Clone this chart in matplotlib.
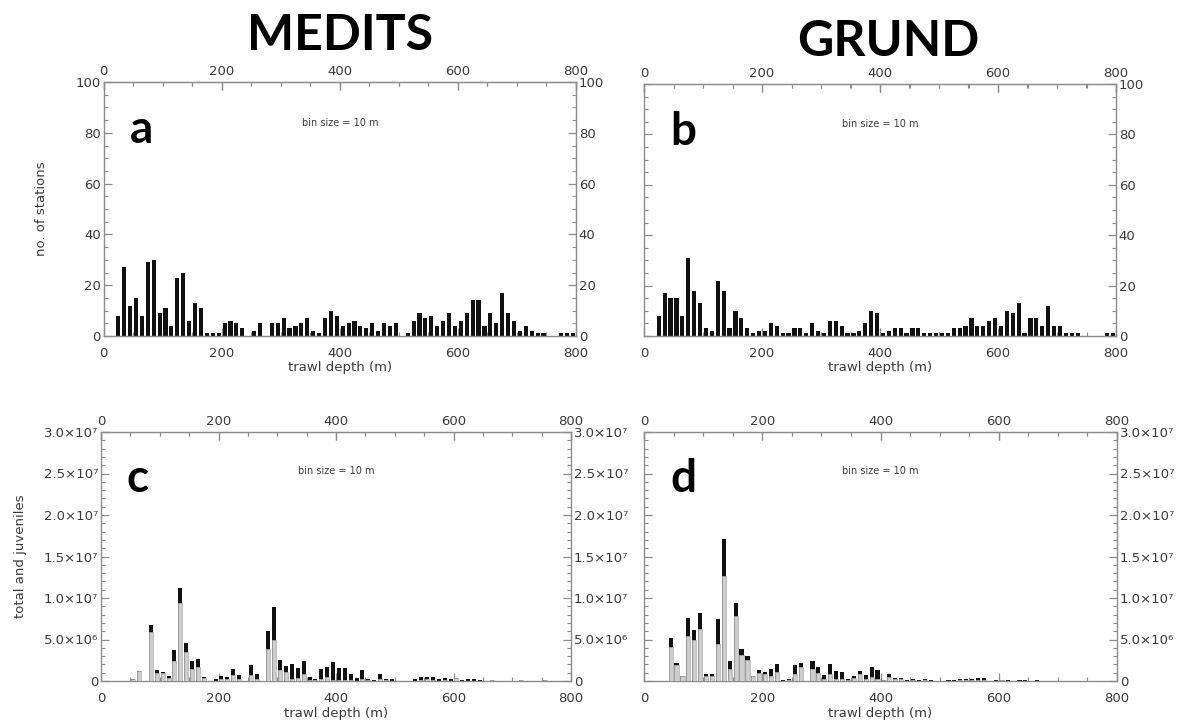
import numpy as np
import matplotlib
matplotlib.use("Agg")
import matplotlib.pyplot as plt
from matplotlib.ticker import MultipleLocator, FixedLocator, FixedFormatter

# ---------------- data (bins of 10 m, bin k covers 10k..10k+10 m) ----------------
bin_size = 10
n_bins = 80

medits_stations = [0, 0, 8, 27, 12, 15, 8, 29, 30, 9,
                   11, 4, 23, 25, 6, 13, 11, 1, 1, 1,
                   5, 6, 5, 3, 0, 2, 5, 0, 5, 5,
                   7, 3, 4, 5, 7, 2, 1, 7, 10, 8,
                   4, 5, 6, 4, 3, 5, 2, 5, 4, 5,
                   0, 1, 6, 9, 7, 8, 4, 6, 9, 4,
                   6, 9, 14, 14, 4, 9, 5, 17, 9, 6,
                   2, 4, 2, 1, 1, 0, 0, 1, 1, 1]

grund_stations = [0, 0, 8, 17, 15, 15, 8, 31, 18, 13,
                  3, 2, 22, 18, 3, 10, 7, 3, 1, 2,
                  2, 5, 4, 1, 1, 3, 3, 1, 5, 2,
                  1, 6, 6, 4, 1, 1, 2, 5, 10, 9,
                  1, 2, 3, 3, 1, 3, 3, 1, 1, 1,
                  1, 1, 3, 3, 4, 7, 4, 4, 6, 7,
                  4, 10, 9, 13, 1, 7, 7, 4, 12, 4,
                  4, 1, 1, 1, 0, 0, 0, 0, 1, 1]

# abundances in millions
medits_total = [0, 0, 0, 0, 0, 0.2, 1.2, 0, 6.7, 1.3,
                1.1, 0.6, 3.7, 11.2, 4.6, 2.4, 2.6, 0.5, 0, 0.2,
                0.65, 0.5, 1.4, 0.7, 0, 1.9, 0.9, 0, 6.0, 8.9,
                2.5, 1.8, 2.0, 1.6, 2.4, 0.45, 0.3, 1.4, 1.7, 2.3,
                1.6, 1.6, 0.85, 0.4, 1.3, 0.3, 0.1, 0.8, 0.3, 0.2,
                0, 0, 0, 0.2, 0.45, 0.5, 0.45, 0.2, 0.4, 0.2,
                0.4, 0.15, 0.2, 0.25, 0.1, 0, 0.1, 0, 0, 0,
                0, 0.1, 0, 0, 0, 0.1, 0, 0, 0, 0]
medits_juv = [0, 0, 0, 0, 0, 0.2, 1.2, 0, 5.9, 1.0,
              1.0, 0.4, 2.4, 9.4, 3.5, 1.5, 1.7, 0.4, 0, 0.05,
              0.3, 0.3, 0.7, 0.25, 0, 0.7, 0.3, 0, 3.8, 4.9,
              1.3, 1.1, 0.3, 0.4, 0.9, 0.1, 0.1, 0.3, 0.5, 0.1,
              0.1, 0.1, 0.1, 0, 0.3, 0.1, 0.05, 0.3, 0.1, 0.05,
              0, 0, 0, 0.05, 0.1, 0.2, 0.1, 0.05, 0.1, 0.05,
              0.4, 0.05, 0.05, 0.05, 0.05, 0, 0.1, 0, 0, 0,
              0, 0.1, 0, 0, 0, 0.1, 0, 0, 0, 0]

grund_total = [0, 0, 0, 0, 5.2, 2.2, 0.6, 7.6, 6.2, 8.2,
               0.8, 0.8, 7.5, 17.1, 2.35, 9.45, 3.8, 3.0, 0.6, 1.3,
               1.1, 1.5, 2.1, 0.1, 0.2, 1.9, 2.15, 0, 2.4, 1.7,
               0.7, 2.1, 1.2, 1.1, 0.2, 0.6, 1.2, 0.7, 1.7, 1.3,
               0.15, 0.8, 0.4, 0.4, 0.1, 0.3, 0.15, 0.3, 0.1, 0,
               0, 0.1, 0.15, 0.25, 0.2, 0.3, 0.35, 0.35, 0, 0.1,
               0.15, 0.1, 0, 0.15, 0.1, 0, 0.1, 0, 0, 0,
               0, 0, 0, 0, 0, 0, 0, 0, 0, 0]
grund_juv = [0, 0, 0, 0, 4.1, 1.9, 0.6, 5.4, 4.9, 6.3,
             0.6, 0.6, 4.4, 12.6, 1.5, 7.85, 3.1, 2.5, 0.6, 1.0,
             0.8, 0.6, 1.1, 0.05, 0.1, 0.9, 1.7, 0, 1.4, 1.0,
             0.25, 0.9, 0.3, 0.3, 0.1, 0.4, 0.9, 0.3, 0.5, 0.3,
             0.1, 0.5, 0.2, 0.2, 0.05, 0.1, 0.05, 0.1, 0.05, 0,
             0, 0.05, 0.05, 0.1, 0.1, 0.1, 0.1, 0.1, 0, 0.05,
             0.1, 0.05, 0, 0.05, 0.05, 0, 0.05, 0, 0, 0,
             0, 0, 0, 0, 0, 0, 0, 0, 0, 0]

survey_titles = ["MEDITS", "GRUND"]
panel_letters = ["a", "b", "c", "d"]
depth_ticks = [0, 200, 400, 600, 800]
depth_minor = list(range(0, 801, 50))
abund_tick_values = [0, 5e6, 1e7, 1.5e7, 2e7, 2.5e7, 3e7]
abund_tick_labels = ["0", "5.0×10⁶", "1.0×10⁷", "1.5×10⁷", "2.0×10⁷", "2.5×10⁷", "3.0×10⁷"]

# ---------------- figure ----------------
W, H = 1187, 722
fig = plt.figure(figsize=(W / 100, H / 100), dpi=100)
fig.patch.set_facecolor("white")

def px_axes(x0, x1, ytop, ybot):
    return fig.add_axes([x0 / W, 1 - ybot / H, (x1 - x0) / W, (ybot - ytop) / H])

ax_a = px_axes(103.5, 576, 82, 336)
ax_b = px_axes(644, 1116, 84, 336)
ax_c = px_axes(101, 571, 432, 681)
ax_d = px_axes(644, 1117, 432, 681)

axis_col = "#8c8c8c"
text_col = "#3a3a3a"
edges = np.arange(n_bins) * bin_size
bar_off = 1.5
bar_w = 7.0

def style(ax, left_labels, ymax, ymajor, yminor):
    ax.set_xlim(0, 800)
    ax.set_ylim(0, ymax)
    ax.xaxis.set_major_locator(FixedLocator(depth_ticks))
    ax.xaxis.set_minor_locator(FixedLocator(depth_minor))
    ax.yaxis.set_major_locator(MultipleLocator(ymajor))
    ax.yaxis.set_minor_locator(MultipleLocator(yminor))
    for s in ax.spines.values():
        s.set_color(axis_col)
        s.set_linewidth(1.0)
    ax.tick_params(which="both", direction="in", top=True, right=True,
                   labeltop=False, labelright=True, labelleft=left_labels,
                   color=axis_col, labelcolor=text_col, labelsize=9.5, pad=2)
    ax.tick_params(axis="x", which="both", pad=8)
    ax.tick_params(which="major", length=6, width=0.9)
    ax.tick_params(which="minor", length=3, width=0.8)
    ax.set_xlabel("trawl depth (m)", fontsize=9.5, color=text_col, labelpad=1)
    # top tick labels on a secondary axis so their offset can differ
    top = ax.secondary_xaxis("top")
    top.xaxis.set_major_locator(FixedLocator(depth_ticks))
    top.xaxis.set_minor_locator(FixedLocator(depth_minor))
    top.spines["top"].set_color(axis_col)
    top.tick_params(which="both", direction="in", color=axis_col,
                    labelcolor=text_col, labelsize=9.5, pad=3)
    top.tick_params(which="major", length=6, width=0.9)
    top.tick_params(which="minor", length=3, width=0.8)
    return top

# stations panels
for ax, vals, left, letter in [(ax_a, medits_stations, True, "a"),
                               (ax_b, grund_stations, False, "b")]:
    style(ax, left, 100, 20, 5)
    ax.bar(edges + bar_off, vals, width=bar_w, align="edge", color="#111111",
           edgecolor="none", zorder=2)
    ax.text(0.055, 0.81, letter, transform=ax.transAxes, fontsize=33,
            fontweight="bold", family="Lato", color="black", va="center", ha="left")
    ax.text(0.5, 0.84, "bin size = 10 m", transform=ax.transAxes, fontsize=7,
            color=text_col, ha="center", va="center")

ax_a.set_ylabel("no. of stations", fontsize=9.5, color=text_col, labelpad=20)

# abundance panels
for ax, tot, juv, left, letter in [(ax_c, medits_total, medits_juv, True, "c"),
                                   (ax_d, grund_total, grund_juv, False, "d")]:
    style(ax, left, 3e7, 5e6, 1e6)
    ax.yaxis.set_major_locator(FixedLocator(abund_tick_values))
    ax.yaxis.set_major_formatter(FixedFormatter(abund_tick_labels))
    tot = np.array(tot) * 1e6
    juv = np.array(juv) * 1e6
    ax.bar(edges + bar_off, tot, width=bar_w, align="edge", color="#111111",
           edgecolor="none", zorder=2)
    ax.bar(edges + bar_off, juv, width=bar_w, align="edge", color="#cdcdcd",
           edgecolor="#b0b0b0", linewidth=0.5, zorder=3)
    ax.text(0.055, 0.81, letter, transform=ax.transAxes, fontsize=33,
            fontweight="bold", family="Lato", color="black", va="center", ha="left")
    ax.text(0.5, 0.845, "bin size = 10 m", transform=ax.transAxes, fontsize=7,
            color=text_col, ha="center", va="center")

ax_c.set_ylabel("total and juveniles", fontsize=9.5, color=text_col, labelpad=12)

# survey titles
fig.text(340 / W, 1 - 36 / H, survey_titles[0], fontsize=36, fontweight="bold",
         family="Lato", ha="center", va="center", color="black")
fig.text(888 / W, 1 - 42 / H, survey_titles[1], fontsize=36, fontweight="bold",
         family="Lato", ha="center", va="center", color="black")

fig.savefig("out.png", dpi=100, facecolor="white")
